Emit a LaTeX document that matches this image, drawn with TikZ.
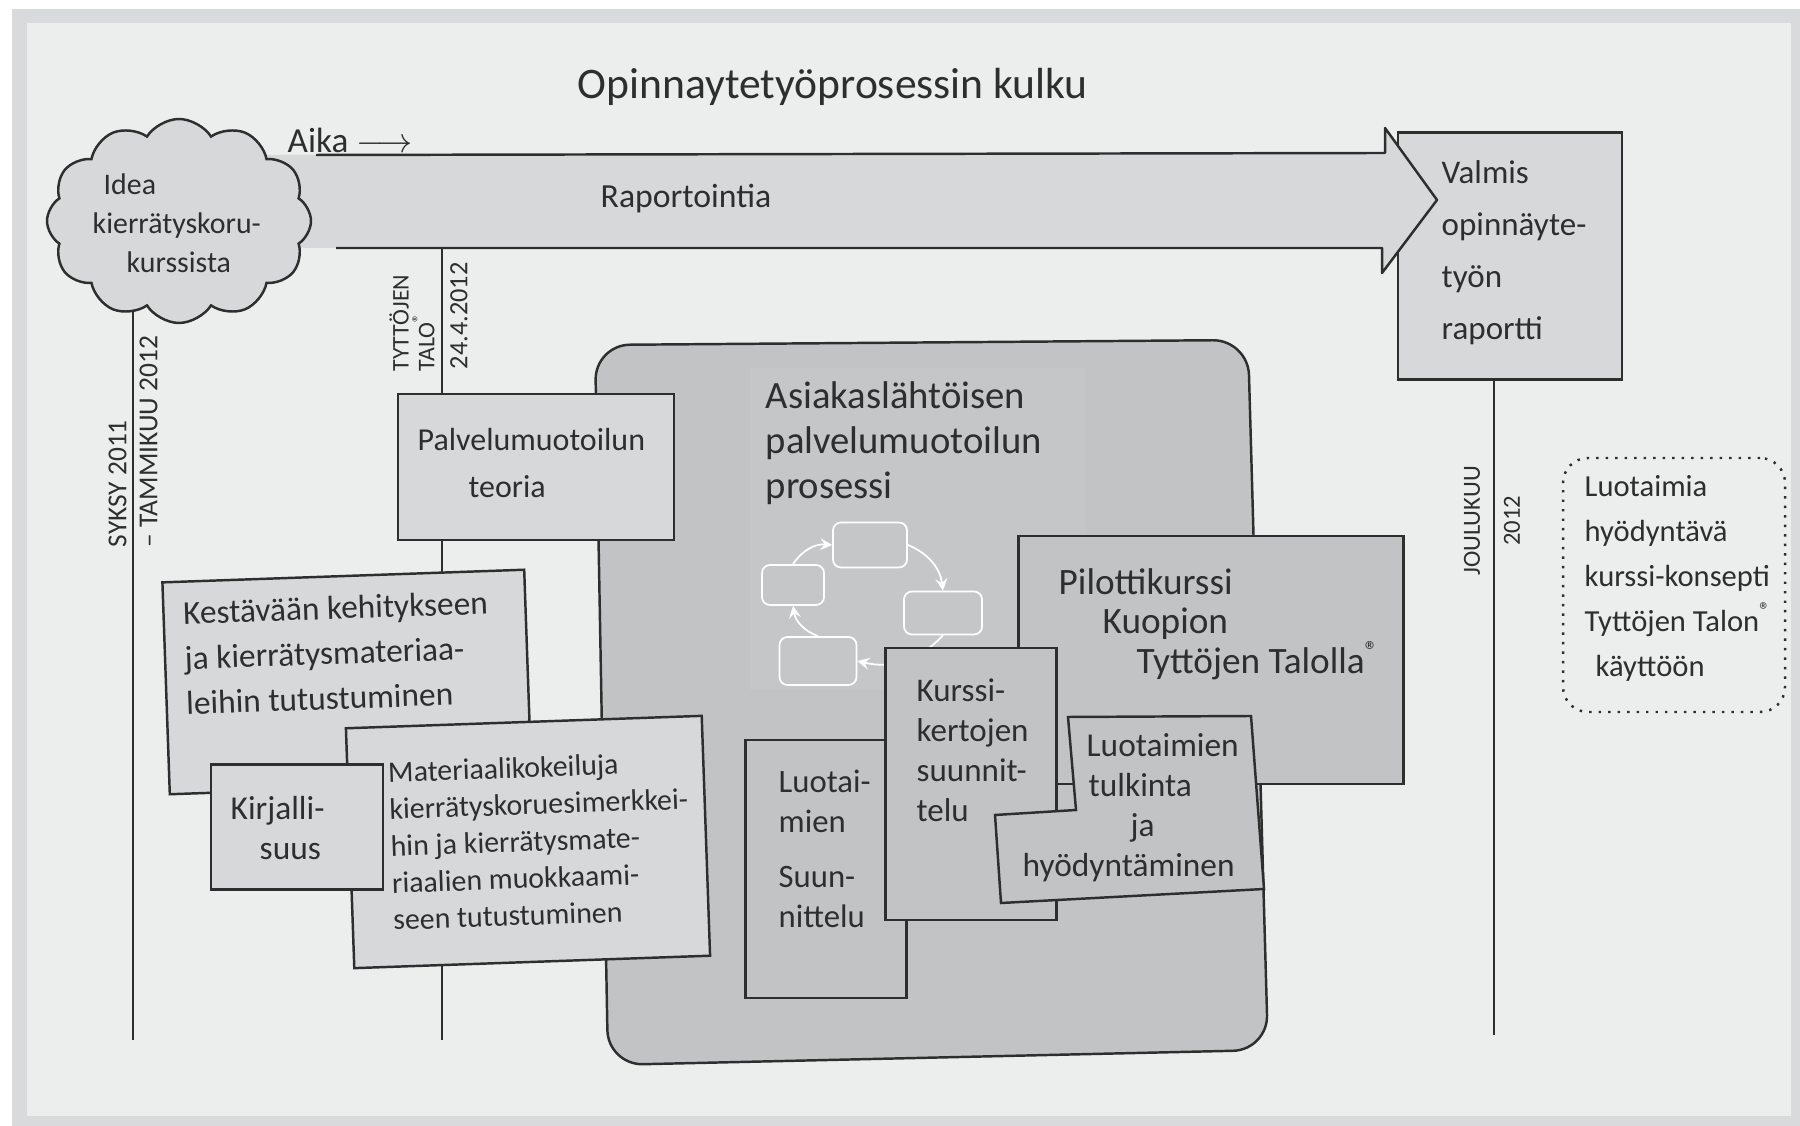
\documentclass[tikz,border=0pt]{standalone}
\usepackage{fontspec}
\setmainfont{Carlito}
\usepackage{xcolor}
\usepackage{tikz}
\usetikzlibrary{positioning}
\usetikzlibrary{arrows,shapes}
\usetikzlibrary{calc}

\definecolor{framegray}{HTML}{D9DADB}
\definecolor{panel}{HTML}{ECEDED}
\definecolor{boxlight}{HTML}{D7D8DA}
\definecolor{boxdark}{HTML}{C2C3C5}
\definecolor{ink}{HTML}{2E2E2E}

\begin{document}
\begin{tikzpicture}[x=0.1mm, y=-0.1mm,
  box/.style={draw=ink, line width=0.7pt, fill=boxlight, inner sep=0pt},
  darkbox/.style={box, fill=boxdark},
  txt/.style={text=ink, align=left, inner sep=0pt, anchor=west, font=\fontsize{9}{11.4}\selectfont},
  datum/.style={text=ink, align=left, inner sep=0pt, anchor=west, rotate=90},
  tline/.style={draw=ink, line width=0.5pt},
  cyc/.style={draw=white, line width=0.5pt, rounded corners=0.8mm, inner sep=0pt},
  cycline/.style={draw=white, line width=0.5pt, ->, >=stealth}]

\useasboundingbox (0,0) rectangle (1800,1126);
\fill[white] (0,0) rectangle (1800,1126);
\fill[framegray] (12,9) rectangle (1800,1126);
\fill[panel] (27,23) rectangle (1791,1116);

\node[box, minimum width=22.4mm, minimum height=24.7mm] (valmis) at (1510,256) {};

% aikajana
\coordinate (t1top) at (133,290);
\coordinate (t1) at (133,1040);
\coordinate (rapbot) at (442,248);
\coordinate (t2) at (442,1040);
\coordinate (t3) at (1494,1035);
\draw[tline] (t1top) -- (t1);
\draw[tline] (rapbot) -- (t2);
\draw[tline] (t3 |- valmis.south) -- (t3);

% raportointi-nuoli
\fill[boxlight] (250,155) -- (1385,153) -- (1385,128) -- (1437,200) -- (1382,273) -- (1382,248) -- (250,248) -- cycle;
\draw[ink, line width=0.7pt, line join=round] (316,155) -- (1385,153) -- (1385,128) -- (1437,200) -- (1382,273) -- (1382,248) -- (336,248);

\node[cloud, cloud puffs=12, cloud puff arc=115, aspect=1.3, draw=ink, fill=boxlight,
  line width=0.7pt, minimum width=26.4mm, minimum height=20.4mm] (idea) at (179,221) {};

% prosessi
\draw[draw=ink, fill=boxdark, line width=0.7pt, rounded corners=3.5mm]
  (595,345) -- (1248,340) -- (1268,1050) -- (608,1065) -- cycle;
\fill[white, opacity=0.05] (750,368) rectangle (1085,690);

\node[cyc, minimum width=7.4mm, minimum height=4.5mm] (c1) at (870,545) {};
\node[cyc, minimum width=7.8mm, minimum height=4.3mm] (c2) at (943,613) {};
\node[cyc, minimum width=7.7mm, minimum height=4.8mm] (c3) at (818,661) {};
\node[cyc, minimum width=6.2mm, minimum height=4.0mm] (c4) at (793,585) {};
\draw[cycline] (c1.east) to[bend left=30] (c2.north);
\draw[cycline] (c2.south) to[bend left=30] (c3.east);
\draw[cycline] (c3.north) to[bend left=30] (c4.south);
\draw[cycline] (c4.north) to[bend left=30] (c1.west);

\node[box, minimum width=27.6mm, minimum height=14.6mm] (teoria) at (536,467) {};
\node[box, rotate=2, minimum width=36.2mm, minimum height=21.2mm] (kestava) at (347,682) {};
\node[box, rotate=2, minimum width=35.6mm, minimum height=24mm] (materiaali) at (528,842) {};
\node[box, minimum width=17.2mm, minimum height=12.5mm] (kirja) at (297,827) {};

\node[darkbox, minimum width=38.5mm, minimum height=24.8mm] (pilotti) at (1211,660) {};
\node[darkbox, minimum width=16.1mm, minimum height=25.8mm] (luotai) at (826,869) {};
\node[darkbox, minimum width=17.1mm, minimum height=27.2mm] (kurssi) at (971,784) {};
\filldraw[fill=boxdark, draw=ink, line width=0.7pt]
  (1068,717) -- (1251,716) -- (1264,889) -- (1001,903) -- (995,815) -- (1076,810) -- cycle;

\node[draw=ink, dotted, line width=0.7pt, rounded corners=2.5mm, inner sep=0pt,
  minimum width=22.2mm, minimum height=25.4mm] (konsepti) at (1674,585) {};

% tekstit
\node[txt, font=\fontsize{12.4}{15}\selectfont] (otsikko) at (577,87) {Opinnaytetyöprosessin kulku};
\node[txt, font=\fontsize{10}{12}\selectfont] (aika) at (287,140) {Aika $\longrightarrow$};
\node[txt, font=\fontsize{9.6}{12}\selectfont] (raportT) at (600,199) {Raportointia};
\node[txt, font=\fontsize{8.5}{11.1}\selectfont] (ideaT) at (92,223)
  {\hspace*{1.1mm}Idea\\kierrätyskoru-\\\hspace*{3.4mm}kurssista};
\node[txt, font=\fontsize{9.4}{14.8}\selectfont] (valmisT) at (1441,253)
  {Valmis\\opinnäyte-\\työn\\raportti};

\node[datum, font=\fontsize{7.8}{8.8}\selectfont] (syksy) at (133,548) {SYKSY 2011\\-- TAMMIKUU 2012};
\node[datum, font=\fontsize{6.8}{5.8}\selectfont] (talo) at (412,372) {TYTTÖJEN\\TALO\textsuperscript{®}};
\node[datum, font=\fontsize{7.5}{9}\selectfont] (pvm) at (459,370) {24.4.2012};
\node[datum, align=center, anchor=center, font=\fontsize{7}{11.4}\selectfont] (joulu) at (1492,521) {JOULUKUU\\2012};

\node[txt, font=\fontsize{9.1}{13.4}\selectfont] (teoriaT) at (417,463)
  {Palvelumuotoilun\\\hspace*{5.1mm}teoria};
\node[txt, rotate=2, font=\fontsize{9.5}{12.8}\selectfont] (kestavaT) at (184,658)
  {Kestävään kehitykseen\\ja kierrätysmateriaa-\\leihin tutustuminen};
\node[txt, rotate=2, font=\fontsize{8.5}{10.5}\selectfont] (materiaaliT) at (390,846)
  {Materiaalikokeiluja\\kierrätyskoruesimerkkei-\\hin ja kierrätysmate-\\riaalien muokkaami-\\seen tutustuminen};
\node[txt, font=\fontsize{9.5}{11.4}\selectfont] (kirjaT) at (230,828)
  {Kirjalli-\\\hspace*{2.9mm}suus};
\node[txt, font=\fontsize{11}{12.8}\selectfont] (asiakasT) at (765,443)
  {Asiakaslähtöisen\\palvelumuotoilun\\prosessi};
\node[txt, font=\fontsize{9.4}{11.4}\selectfont] (kurssiT) at (916,750)
  {Kurssi-\\kertojen\\suunnit-\\telu};
\node[txt, font=\fontsize{9.3}{11.4}\selectfont] (luotaiT) at (778,849)
  {Luotai-\\mien\\[1.5mm]Suun-\\nittelu};
\node[txt, font=\fontsize{10.6}{11.2}\selectfont] (pilottiT) at (1058,624)
  {Pilottikurssi\\\hspace*{4.4mm}Kuopion\\\hspace*{7.8mm}Tyttöjen Talolla\textsuperscript{®}};
\node[txt, font=\fontsize{9.5}{11.4}\selectfont] (tulkintaT) at (1022,808)
  {\hspace*{6.4mm}Luotaimien\\\hspace*{6.6mm}tulkinta\\\hspace*{10.8mm}ja\\hyödyntäminen};
\node[txt, font=\fontsize{8.7}{12.8}\selectfont] (konseptiT) at (1584,578)
  {Luotaimia\\hyödyntävä\\kurssi-konsepti\\Tyttöjen Talon\textsuperscript{®}\\\hspace*{1.1mm}käyttöön};

\end{tikzpicture}
\end{document}
